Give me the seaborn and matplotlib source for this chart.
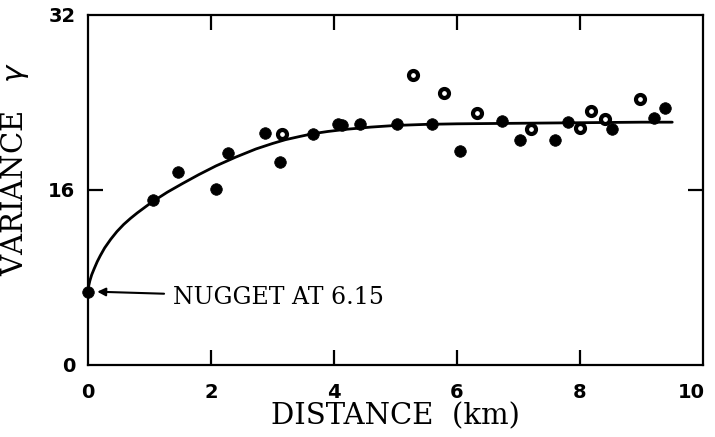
import matplotlib
matplotlib.use("Agg")
import matplotlib.pyplot as plt
import matplotlib.transforms as mtransforms
import seaborn as sns
import pandas as pd

# Experimental variogram points (distance km, variance)
dist_solid = [0.0, 1.06, 1.46, 2.08, 2.28, 2.88, 3.12, 3.66, 4.07, 4.13, 4.42,
              5.02, 5.60, 6.05, 6.73, 7.02, 7.60, 7.80, 8.52, 9.20, 9.38]
var_solid = [6.7, 15.1, 17.6, 16.1, 19.4, 21.2, 18.6, 21.1, 22.0, 21.9, 22.0,
             22.0, 22.0, 19.6, 22.3, 20.6, 20.6, 22.2, 21.6, 22.6, 23.5]

dist_ring = [3.15, 5.28, 5.79, 6.33, 7.20, 8.00, 8.18, 8.41, 8.98]
var_ring = [21.1, 26.5, 24.9, 23.0, 21.6, 21.7, 23.2, 22.5, 24.3]

# Fitted model curve
curve_d = [0.0, 0.01, 0.03, 0.06, 0.1, 0.15, 0.2, 0.27, 0.37, 0.47, 0.58, 0.69,
           0.8, 0.92, 1.04, 1.29, 1.54, 1.8, 2.08, 2.4, 2.73, 3.0, 3.21, 3.45,
           3.66, 3.9, 4.2, 4.6, 5.0, 5.5, 6.0, 7.0, 8.0, 9.0, 9.5]
curve_v = [6.7, 7.2, 7.7, 8.25, 8.8, 9.45, 10.0, 10.7, 11.5, 12.2, 12.85, 13.4,
           13.9, 14.4, 14.9, 15.8, 16.6, 17.4, 18.2, 19.0, 19.75, 20.25, 20.6, 20.9,
           21.15, 21.35, 21.55, 21.75, 21.9, 22.0, 22.05, 22.1, 22.15, 22.2, 22.2]

xticks = [0, 2, 4, 6, 8, 10]
yticks = [0, 16, 32]
nugget_label = "NUGGET AT 6.15"

sns.set_theme(style="ticks")
plt.rcParams["font.family"] = ["DejaVu Sans"]
plt.rcParams["text.color"] = "black"
plt.rcParams["axes.labelcolor"] = "black"

fig = plt.figure(figsize=(7.15, 4.37), dpi=100)
ax = fig.add_axes([0.1231, 0.1648, 0.8601, 0.8009])

df_curve = pd.DataFrame({"d": curve_d, "v": curve_v})
df_solid = pd.DataFrame({"d": dist_solid, "v": var_solid})
df_ring = pd.DataFrame({"d": dist_ring, "v": var_ring})

sns.lineplot(data=df_curve, x="d", y="v", ax=ax, color="black", linewidth=2.0,
             sort=False, estimator=None)
ax.lines[-1].set_solid_joinstyle("round")
sns.scatterplot(data=df_solid, x="d", y="v", ax=ax, color="black", s=70,
                edgecolor="black", linewidth=0.5, zorder=3, clip_on=False)
sns.scatterplot(data=df_ring, x="d", y="v", ax=ax, color="white", s=42,
                edgecolor="black", linewidth=3.0, zorder=3, clip_on=False)

ax.set_xlim(0, 10)
ax.set_ylim(0, 32)
ax.set_xticks(xticks)
ax.set_yticks(yticks)
ax.set_xticklabels([str(t) for t in xticks])
ax.set_yticklabels([str(t) for t in yticks])

for s in ax.spines.values():
    s.set_visible(True)
    s.set_linewidth(1.6)
    s.set_color("black")

ax.tick_params(axis="both", which="major", direction="in", length=11, width=1.6,
               top=True, right=True, labelsize=14, colors="black", pad=9)
ax.tick_params(axis="x", pad=13)
for lab in ax.get_xticklabels() + ax.get_yticklabels():
    lab.set_fontweight("bold")
# last x label sits just inside the right edge
last = ax.get_xticklabels()[-1]
last.set_transform(last.get_transform() + mtransforms.ScaledTranslation(-12 / 100, 0, fig.dpi_scale_trans))

for t in [ax.xaxis.get_major_ticks()[0], ax.xaxis.get_major_ticks()[-1],
          ax.yaxis.get_major_ticks()[0], ax.yaxis.get_major_ticks()[-1]]:
    t.tick1line.set_visible(False)
    t.tick2line.set_visible(False)

ax.set_xlabel("DISTANCE  (km)", fontsize=21, family="DejaVu Serif", labelpad=0)
ax.set_ylabel("VARIANCE   $\\gamma$", fontsize=21, family="DejaVu Serif")
ax.yaxis.set_label_coords(-0.092, 0.56)

ax.annotate(nugget_label, xy=(0.15, var_solid[0]), xytext=(1.38, var_solid[0] - 0.5),
            fontsize=17, family="DejaVu Serif", va="center", ha="left",
            arrowprops=dict(arrowstyle="-|>", color="black", lw=1.5,
                            mutation_scale=12, shrinkA=4, shrinkB=0))

fig.savefig("out.png", dpi=100)
